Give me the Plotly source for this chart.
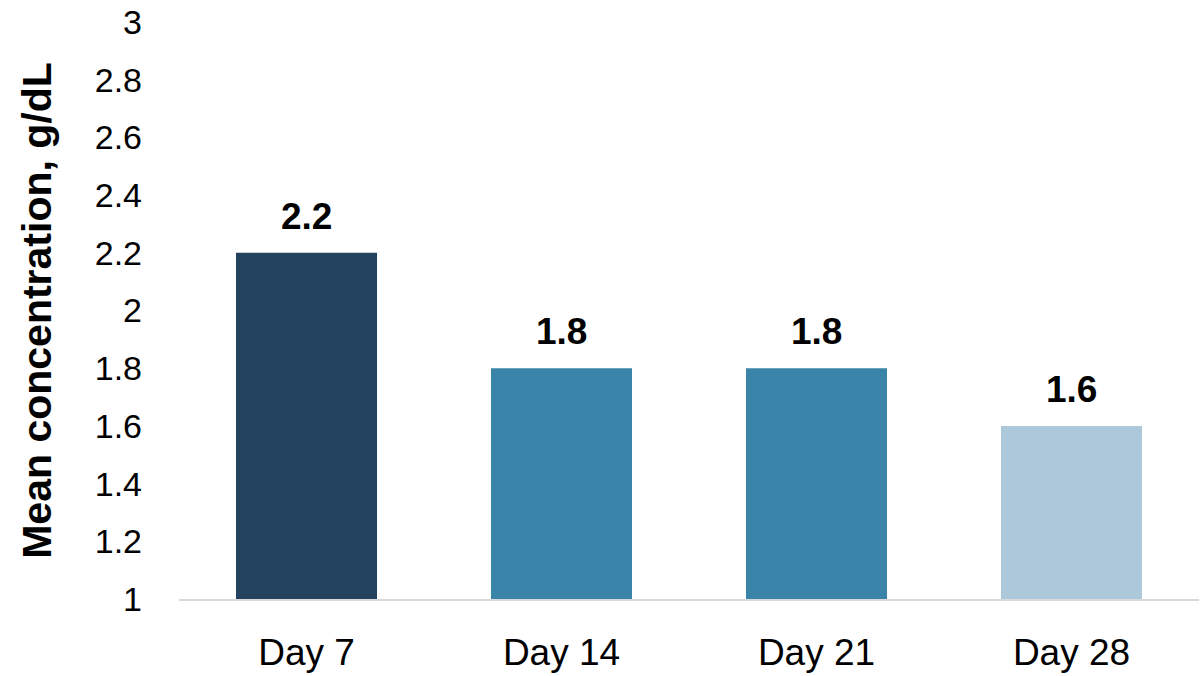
import plotly.graph_objects as go

categories = ["Day 7", "Day 14", "Day 21", "Day 28"]
values = [2.2, 1.8, 1.8, 1.6]
labels = ["2.2", "1.8", "1.8", "1.6"]
colors = ["#23425E", "#3A84AA", "#3A84AA", "#ADC8DA"]

FONT = "Liberation Sans, Arial, sans-serif"

fig = go.Figure()
fig.add_trace(go.Bar(
    x=categories, y=values, marker=dict(color=colors, line=dict(width=0)),
    hoverinfo="skip",
))

for c, v, t in zip(categories, values, labels):
    fig.add_annotation(
        x=c, y=v, text="<b>%s</b>" % t, showarrow=False,
        xanchor="center", yanchor="bottom", yshift=14,
        font=dict(family=FONT, size=37, color="#000000"),
    )

fig.update_layout(
    width=1202, height=676,
    margin=dict(l=179, r=3, t=22, b=75),
    paper_bgcolor="white", plot_bgcolor="white",
    showlegend=False,
    bargap=0.447,
    font=dict(family=FONT, size=34, color="#000000"),
)
fig.update_xaxes(
    range=[-0.5, 3.5], showline=True, linecolor="#D9D9D9", linewidth=2,
    showgrid=False, ticks="", ticklabelstandoff=20,
    tickfont=dict(family=FONT, size=37, color="#000000"),
)
fig.update_yaxes(
    range=[1, 3], dtick=0.2, tick0=1, showgrid=False, zeroline=False,
    showline=False, ticks="", ticklabelstandoff=36,
    tickfont=dict(family=FONT, size=34, color="#000000"),
    title=dict(text="<b>Mean concentration, g/dL</b>", standoff=30,
               font=dict(family=FONT, size=41, color="#000000")),
)

fig.write_html("out.html")
